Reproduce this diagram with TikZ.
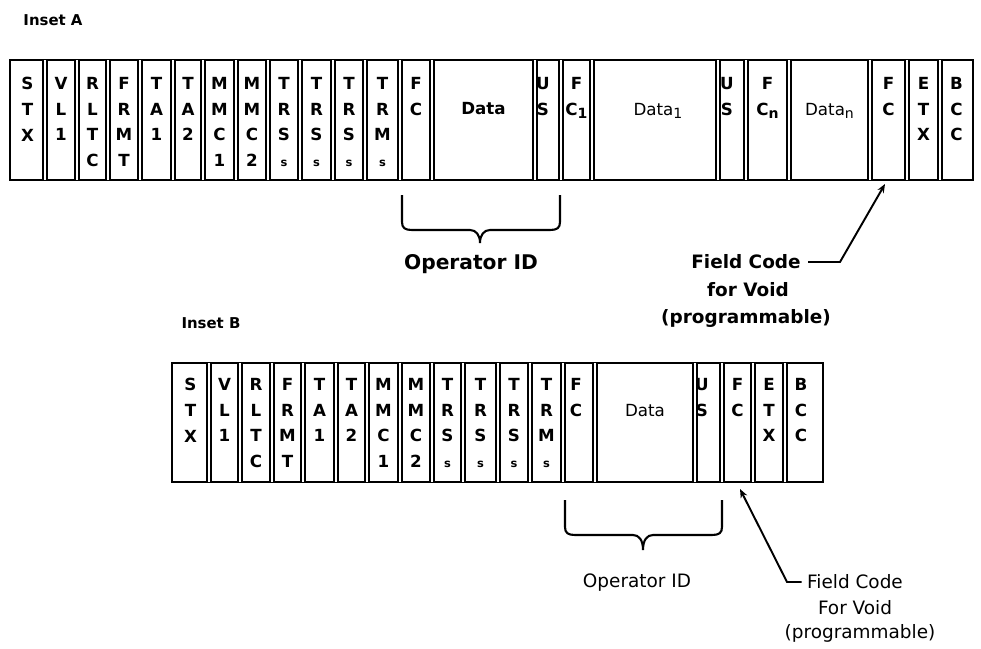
\documentclass[tikz,border=0pt]{standalone}
\usepackage{fontspec}
\setmainfont{DejaVu Sans}
\usetikzlibrary{positioning,arrows.meta}
\newcommand{\lo}[1]{\raisebox{-0.4ex}{\fontsize{8}{8}\selectfont #1}}
\newcommand{\sm}{{\fontsize{6.5}{6.5}\selectfont s}}

\begin{document}
\begin{tikzpicture}[x=0.02cm,y=-0.02cm,
    cell/.style={anchor=north,align=center,inner sep=0pt,
      font=\bfseries\fontsize{9.5}{14.6}\selectfont},
    frm/.style={line width=1.3pt},
    sep/.style={double,double distance=1.3pt,line width=0.8pt},
    brc/.style={line width=1.2pt},
    lblA/.style={font=\bfseries\fontsize{10.5}{12}\selectfont,inner sep=1pt},
    lblB/.style={font=\fontsize{10.5}{12}\selectfont,inner sep=1pt},
    inset/.style={font=\bfseries\fontsize{8.5}{10}\selectfont},
    ptr/.style={line width=1.1pt,->},>={Stealth[length=5pt,width=4pt]}]
    \useasboundingbox (0,0) rectangle (981,649);
    % Inset A
    \node[inset](insA) at (53,20) {Inset A};
    \draw[frm] (10,60) rectangle (973,180);
    \foreach \x in {45,77,108,140,173,203,236,268,300,333,365,400,432,535,561,592,718,746,789,870,907,940}
      \draw[sep] (\x,60) -- (\x,180);
    \node[cell](a1)  at (27.5,77)  {S\\T\\X};
    \node[cell](a2)  at (61,77)    {V\\L\\1};
    \node[cell](a3)  at (92.5,77)  {R\\L\\T\\C};
    \node[cell](a4)  at (124,77)   {F\\R\\M\\T};
    \node[cell](a5)  at (156.5,77) {T\\A\\1};
    \node[cell](a6)  at (188,77)   {T\\A\\2};
    \node[cell](a7)  at (219.5,77) {M\\M\\C\\1};
    \node[cell](a8)  at (252,77)   {M\\M\\C\\2};
    \node[cell](a9)  at (284,77)   {T\\R\\S\\\sm};
    \node[cell](a10) at (316.5,77) {T\\R\\S\\\sm};
    \node[cell](a11) at (349,77)   {T\\R\\S\\\sm};
    \node[cell](a12) at (382.5,77) {T\\R\\M\\\sm};
    \node[cell](a13) at (416,77)   {F\\C};
    \node[cell,anchor=center](a14) at (483.5,109) {Data};
    \node[cell](a15) at (543,77)   {U\\S};
    \node[cell](a16) at (576.5,77) {F\\C\lo{1}};
    \node[cell,anchor=center,font=\fontsize{9.5}{14.6}\selectfont](a17) at (658,111) {Data\lo{1}};
    \node[cell](a18) at (727,77)   {U\\S};
    \node[cell](a19) at (767.5,77) {F\\C\lo{n}};
    \node[cell,anchor=center,font=\fontsize{9.5}{14.6}\selectfont](a20) at (829.5,111) {Data\lo{n}};
    \node[cell](a21) at (888.5,77) {F\\C};
    \node[cell](a22) at (923.5,77) {E\\T\\X};
    \node[cell](a23) at (956.5,77) {B\\C\\C};
    \draw[brc] (402,195) -- (402,222) .. controls (402,228) and (405,230) .. (412,230)
      -- (470,230) .. controls (476,230) and (480,235) .. (480,243)
      .. controls (480,235) and (484,230) .. (490,230) -- (550,230)
      .. controls (557,230) and (560,228) .. (560,222) -- (560,195);
    \node[lblA,font=\bfseries\fontsize{11.5}{13}\selectfont](opA) at (471,264) {Operator ID};
    \node[lblA](fcA1) at (746,262) {Field Code};
    \node[lblA](fcA2) at (748,290) {for Void};
    \node[lblA](fcA3) at (746,318) {(programmable)};
    \coordinate (kA) at (840,262);
    \coordinate (tipA) at (885,184);
    \draw[ptr,shorten <=3pt] (fcA1.east) -- (kA) -- (tipA);
    % Inset B
    \node[inset](insB) at (211,323) {Inset B};
    \draw[frm] (172,363) rectangle (823,482);
    \foreach \x in {209,240,272,303,336,367,400,432,463,498,530,563,595,695,722,753,785}
      \draw[sep] (\x,363) -- (\x,482);
    \node[cell](b1)  at (190.5,378) {S\\T\\X};
    \node[cell](b2)  at (224.5,378) {V\\L\\1};
    \node[cell](b3)  at (256,378)   {R\\L\\T\\C};
    \node[cell](b4)  at (287.5,378) {F\\R\\M\\T};
    \node[cell](b5)  at (319.5,378) {T\\A\\1};
    \node[cell](b6)  at (351.5,378) {T\\A\\2};
    \node[cell](b7)  at (383.5,378) {M\\M\\C\\1};
    \node[cell](b8)  at (416,378)   {M\\M\\C\\2};
    \node[cell](b9)  at (447.5,378) {T\\R\\S\\\sm};
    \node[cell](b10) at (480.5,378) {T\\R\\S\\\sm};
    \node[cell](b11) at (514,378)   {T\\R\\S\\\sm};
    \node[cell](b12) at (546.5,378) {T\\R\\M\\\sm};
    \node[cell](b13) at (576,378)   {F\\C};
    \node[cell,anchor=center,font=\fontsize{9.5}{14.6}\selectfont](b14) at (645,411) {Data};
    \node[cell](b15) at (702,378)   {U\\S};
    \node[cell](b16) at (737.5,378) {F\\C};
    \node[cell](b17) at (769,378)   {E\\T\\X};
    \node[cell](b18) at (801,378)   {B\\C\\C};
    \draw[brc] (565,500) -- (565,527) .. controls (565,533) and (568,535) .. (575,535)
      -- (633,535) .. controls (639,535) and (643,540) .. (643,550)
      .. controls (643,540) and (647,535) .. (653,535) -- (712,535)
      .. controls (719,535) and (722,533) .. (722,527) -- (722,500);
    \node[lblB](opB) at (637,583) {Operator ID};
    \node[lblB](fcB1) at (855,582) {Field Code};
    \node[lblB](fcB2) at (855,608) {For Void};
    \node[lblB](fcB3) at (860,633) {(programmable)};
    \coordinate (kB) at (787,582);
    \coordinate (tipB) at (740,489);
    \draw[ptr,shorten <=2pt] (fcB1.west) -- (kB) -- (tipB);
  \end{tikzpicture}
\end{document}
